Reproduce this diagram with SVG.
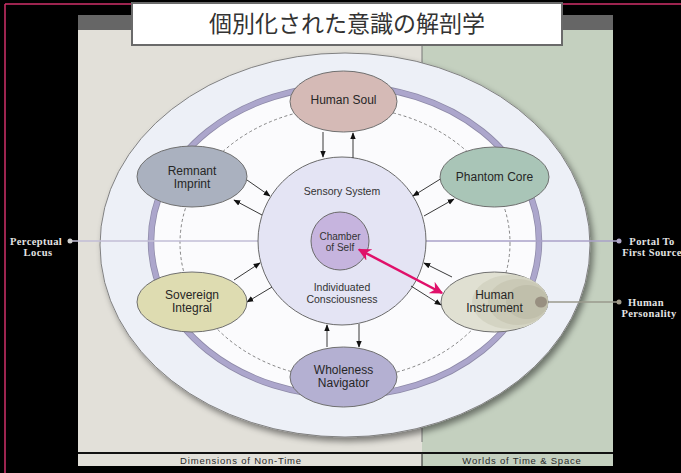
<svg xmlns="http://www.w3.org/2000/svg" width="681" height="473" viewBox="0 0 681 473">
<defs>
<style>
.node{stroke:#707070;stroke-width:1}
.lbl{font-family:"Liberation Sans",Arial,sans-serif;font-size:12px;fill:#262626;text-anchor:middle}
.inner{font-family:"Liberation Sans",Arial,sans-serif;font-size:10.5px;fill:#333;text-anchor:middle}
.side{font-family:"Liberation Serif","Times New Roman",serif;font-size:10.5px;font-weight:bold;fill:#e4e4e4;text-anchor:middle;letter-spacing:0.4px}
.bar{font-family:"Liberation Sans",Arial,sans-serif;font-size:9.5px;fill:#2a2a2a;text-anchor:middle;letter-spacing:0.8px}
.conn{stroke:#222;stroke-width:0.9;fill:none;marker-end:url(#ah)}
</style>
<marker id="ah" viewBox="0 0 10 10" refX="9" refY="5" markerWidth="7" markerHeight="7" markerUnits="userSpaceOnUse" orient="auto">
<path d="M0,1 L10,5 L0,9 z" fill="#111"/>
</marker>
<marker id="pk" viewBox="0 0 10 10" refX="9" refY="5" markerWidth="13" markerHeight="13" markerUnits="userSpaceOnUse" orient="auto-start-reverse">
<path d="M0,0 L10,5 L0,10 L3,5 z" fill="#e0106a"/>
</marker>
<filter id="sh" x="-10%" y="-10%" width="120%" height="125%">
<feDropShadow dx="3" dy="4" stdDeviation="3" flood-color="#000" flood-opacity="0.45"/>
</filter>
</defs>

<rect x="0" y="0" width="681" height="473" fill="#000"/>
<line x1="5" y1="4" x2="681" y2="4" stroke="#d0306a" stroke-width="1.5"/>
<line x1="5" y1="4" x2="5" y2="473" stroke="#d0306a" stroke-width="1.5"/>

<g id="panels">
<rect x="78" y="15" width="535" height="15" fill="#666"/>
<rect x="78" y="30" width="344" height="423" fill="#e2e0d9"/>
<rect x="422" y="30" width="191" height="423" fill="#c4d0bf"/>
<line x1="422" y1="30" x2="422" y2="442" stroke="#777" stroke-width="1"/>
<rect x="78" y="453" width="344" height="13" fill="#e2e0d9"/>
<rect x="422" y="453" width="191" height="13" fill="#c4d0bf"/>
<line x1="78" y1="453" x2="613" y2="453" stroke="#111" stroke-width="2"/>
<line x1="422" y1="453" x2="422" y2="466" stroke="#222" stroke-width="1"/>
<text class="bar" x="241" y="463.5">Dimensions of Non-Time</text>
<text class="bar" x="522" y="463.5">Worlds of Time &amp; Space</text>
</g>

<g id="title">
<rect x="132" y="3" width="430" height="42" fill="#fff" stroke="#6a6a6a" stroke-width="2"/>
<text x="347" y="32" font-family="'Noto Sans CJK JP','Noto Sans CJK SC',sans-serif" font-size="23" fill="#333" text-anchor="middle">個別化された意識の解剖学</text>
</g>

<g id="field">
<ellipse cx="345" cy="245" rx="245" ry="192" fill="#edf0f7" stroke="#808080" stroke-width="1" filter="url(#sh)"/>
<ellipse cx="345" cy="241" rx="194" ry="155" fill="#fbfbfd" stroke="#8e8aa8" stroke-width="6.5"/>
<ellipse cx="345" cy="241" rx="194" ry="155" fill="none" stroke="#aca6cc" stroke-width="5"/>
<ellipse cx="345" cy="243" rx="165" ry="136" fill="none" stroke="#666" stroke-width="0.8" stroke-dasharray="3,2.5"/>
</g>

<g id="side-lines">
<line x1="72" y1="241" x2="258" y2="241" stroke="#c2bed6" stroke-width="1.5"/>
<line x1="369" y1="241" x2="617" y2="241" stroke="#aaa2c8" stroke-width="1.5"/>
<line x1="541" y1="302" x2="617" y2="302" stroke="#9a9a8c" stroke-width="1.5"/>
</g>

<g id="sensory-system">
<circle cx="342" cy="241" r="84" fill="#e4e4f4" stroke="#6a6a6a" stroke-width="1"/>
<text class="inner" x="342" y="195">Sensory System</text>
<text class="inner" x="342" y="291">Individuated</text>
<text class="inner" x="342" y="302.5">Consciousness</text>
</g>

<g id="chamber-of-self">
<circle cx="340" cy="241" r="29" fill="#c6b4de" stroke="#6a6a6a" stroke-width="1"/>
<text class="inner" x="340" y="239.5" style="font-size:10px">Chamber</text>
<text class="inner" x="340" y="250.5" style="font-size:10px">of Self</text>
</g>

<g id="connectors">
<line class="conn" x1="323" y1="132" x2="323" y2="157"/>
<line class="conn" x1="353" y1="158" x2="353" y2="133"/>
<line class="conn" x1="327" y1="347" x2="327" y2="325"/>
<line class="conn" x1="359" y1="324" x2="359" y2="347"/>
<line class="conn" x1="247" y1="180" x2="270" y2="196"/>
<line class="conn" x1="262" y1="215" x2="234" y2="200"/>
<line class="conn" x1="442" y1="178" x2="413" y2="196"/>
<line class="conn" x1="424" y1="216" x2="454" y2="199"/>
<line class="conn" x1="234" y1="280" x2="260" y2="263"/>
<line class="conn" x1="272" y1="287" x2="247" y2="302"/>
<line class="conn" x1="452" y1="277" x2="424" y2="263"/>
<line class="conn" x1="411" y1="286" x2="441" y2="305"/>
<line x1="359" y1="249.5" x2="442" y2="293" stroke="#e0106a" stroke-width="2.5" marker-start="url(#pk)" marker-end="url(#pk)"/>
</g>

<g id="human-soul">
<ellipse class="node" cx="343.5" cy="101.5" rx="53.5" ry="30.5" fill="#d5bab6"/>
<text class="lbl" x="343.5" y="103.5">Human Soul</text>
</g>

<g id="remnant-imprint">
<ellipse class="node" cx="192" cy="176.5" rx="55" ry="30.5" fill="#aab1bf"/>
<text class="lbl" x="192" y="175">Remnant</text>
<text class="lbl" x="192" y="188">Imprint</text>
</g>

<g id="phantom-core">
<ellipse class="node" cx="494.5" cy="177" rx="54.5" ry="30" fill="#a9c5b7"/>
<text class="lbl" x="494.5" y="181">Phantom Core</text>
</g>

<g id="sovereign-integral">
<ellipse class="node" cx="192" cy="302" rx="55" ry="30" fill="#dedcb1"/>
<text class="lbl" x="192" y="298.5">Sovereign</text>
<text class="lbl" x="192" y="312">Integral</text>
</g>

<g id="human-instrument">
<ellipse class="node" cx="494.5" cy="302" rx="53.5" ry="30" fill="#e0e0d2"/>
<ellipse cx="510" cy="302" rx="38" ry="27" fill="#d4d4c3"/>
<ellipse cx="518" cy="302" rx="30" ry="23" fill="#cac9b6"/>
<ellipse cx="527" cy="302" rx="21" ry="17" fill="#c0bfab"/>
<ellipse cx="541" cy="302" rx="6" ry="5.5" fill="#988f80"/>
<text class="lbl" x="494.5" y="298.5">Human</text>
<text class="lbl" x="494.5" y="311.5">Instrument</text>
</g>

<g id="wholeness-navigator">
<ellipse class="node" cx="343.5" cy="377" rx="53.5" ry="30" fill="#b4b0d2"/>
<text class="lbl" x="343.5" y="374">Wholeness</text>
<text class="lbl" x="343.5" y="387">Navigator</text>
</g>

<g id="perceptual-locus">
<circle cx="70" cy="241" r="2.5" fill="#cfcfcf"/>
<text class="side" x="36" y="244.5">Perceptual</text>
<text class="side" x="38" y="255.5">Locus</text>
</g>

<g id="portal-to-first-source">
<circle cx="619" cy="241" r="2.5" fill="#b0a8c8"/>
<text class="side" x="652" y="244.5">Portal To</text>
<text class="side" x="652" y="255.5">First Source</text>
</g>

<g id="human-personality">
<circle cx="619" cy="302" r="2.5" fill="#a29c8a"/>
<text class="side" x="646" y="305.5">Human</text>
<text class="side" x="649" y="316.5">Personality</text>
</g>
</svg>
